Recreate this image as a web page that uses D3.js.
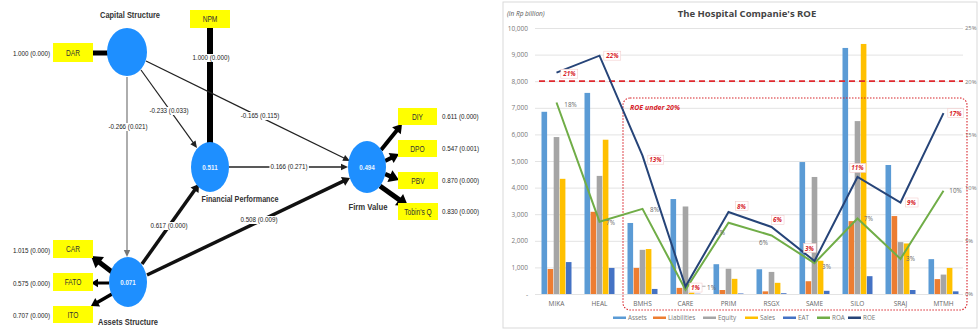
<!DOCTYPE html>
<html><head><meta charset="utf-8">
<script src="https://cdn.jsdelivr.net/npm/d3@7"></script>
<style>
html,body{margin:0;padding:0;background:#fff;}
svg{display:block;}
</style></head>
<body>
<svg id="c" width="978" height="331"></svg>
<script>
// ---------- DATA: right chart ----------
const categories = ["MIKA","HEAL","BMHS","CARE","PRIM","RSGX","SAME","SILO","SRAJ","MTMH"];
const assets      = [6850,7560,2670,3570,1120,930,4960,9250,4850,1310];
const liabilities = [940,3090,980,230,150,100,480,2740,2930,560];
const equity      = [5900,4440,1660,3290,950,830,4400,6500,1950,730];
const sales       = [4330,5800,1690,50,570,420,1250,9400,1900,980];
const eat         = [1200,980,190,10,20,30,120,670,150,100];
const roa = [18,6.8,8,0.4,6.7,5.5,2.9,7.1,3.3,9.7];
const roe = [20.8,22.4,13,0.7,7.7,6.3,3.1,11,8.6,17];
const roaLabels = ["18%","7%","8%","1%","7%","6%","3%","7%","3%","10%"];
const roeLabels = ["21%","22%","13%","1%","8%","6%","3%","11%","9%","17%"];
const leftTicks = [0,1000,2000,3000,4000,5000,6000,7000,8000,9000,10000];
const rightTicks = [0,5,10,15,20,25];
const seriesNames = ["Assets","Liabilities","Equity","Sales","EAT"];
const legendNames = ["Assets","Liabilities","Equity","Sales","EAT","ROA","ROE"];
const roeThreshold = 20;

// ---------- DATA: left path diagram ----------
const constructs = [
  {id:"cs", name:"Capital Structure", r2:""},
  {id:"fp", name:"Financial Performance", r2:"0.511"},
  {id:"fv", name:"Firm Value", r2:"0.494"},
  {id:"as", name:"Assets Structure", r2:"0.071"}
];
const indicators = [
  {id:"DAR", of:"cs", value:"1.000 (0.000)"},
  {id:"NPM", of:"fp", value:"1.000 (0.000)"},
  {id:"DIY", of:"fv", value:"0.611 (0.000)"},
  {id:"DPO", of:"fv", value:"0.547 (0.001)"},
  {id:"PBV", of:"fv", value:"0.870 (0.000)"},
  {id:"Tobin's Q", of:"fv", value:"0.830 (0.000)"},
  {id:"CAR", of:"as", value:"1.015 (0.000)"},
  {id:"FATO", of:"as", value:"0.575 (0.000)"},
  {id:"ITO", of:"as", value:"0.707 (0.000)"}
];
const paths = [
  {from:"cs", to:"fp", label:"-0.233 (0.033)"},
  {from:"cs", to:"fv", label:"-0.165 (0.115)"},
  {from:"cs", to:"as", label:"-0.266 (0.021)"},
  {from:"fp", to:"fv", label:"0.166 (0.271)"},
  {from:"as", to:"fp", label:"0.617 (0.000)"},
  {from:"as", to:"fv", label:"0.508 (0.009)"}
];

// ---------- LAYOUT (positions / styles) ----------
const svg = d3.select("#c");
const font = "'Liberation Sans',Arial,sans-serif";
const cond = 0.8; // horizontal condensing to mimic a narrow face

function condense(t, target){
  const w = t.node().getComputedTextLength();
  const tw = target || w*cond;
  t.attr("textLength",tw).attr("lengthAdjust","spacingAndGlyphs");
  return t;
}

const nodePos = {
  cs:{x:127,y:52,rx:20,ry:24, lx:130, ly:18, lw:60},
  fp:{x:210,y:167,rx:19,ry:25, lx:240, ly:202, lw:77},
  fv:{x:367,y:167,rx:19,ry:26, lx:368, ly:210, lw:39},
  as:{x:128,y:282,rx:19,ry:25, lx:128, ly:325, lw:60}
};
const indPos = {
  "DAR":{x:53,y:43,w:40,h:19, vx:50, vy:56, anchor:"end"},
  "NPM":{x:190,y:10,w:40,h:18, vx:211, vy:60, anchor:"middle"},
  "DIY":{x:398,y:108,w:39,h:17, vx:442, vy:119, anchor:"start"},
  "DPO":{x:398,y:140,w:39,h:17, vx:442, vy:151, anchor:"start"},
  "PBV":{x:398,y:172,w:40,h:17, vx:442, vy:183, anchor:"start"},
  "Tobin's Q":{x:398,y:203,w:40,h:17, vx:442, vy:214, anchor:"start"},
  "CAR":{x:53,y:240,w:40,h:18, vx:50, vy:253, anchor:"end"},
  "FATO":{x:53,y:273,w:40,h:18, vx:50, vy:286, anchor:"end"},
  "ITO":{x:53,y:306,w:40,h:17, vx:50, vy:318, anchor:"end"}
};
const loadLines = {
  "DAR":{x1:108,y1:53,x2:93,y2:53,w:5,arrow:false},
  "NPM":{x1:210,y1:143,x2:210,y2:28,w:6,arrow:false},
  "DIY":{x1:381,y1:150,x2:402,y2:124,w:4,arrow:true},
  "DPO":{x1:385,y1:161,x2:399,y2:154,w:4,arrow:true},
  "PBV":{x1:385,y1:174,x2:399,y2:180,w:4.5,arrow:true},
  "Tobin's Q":{x1:380,y1:186,x2:408,y2:206,w:5,arrow:true},
  "CAR":{x1:112,y1:272,x2:91,y2:256,w:5,arrow:true},
  "FATO":{x1:109,y1:283,x2:91,y2:283,w:3,arrow:true},
  "ITO":{x1:112,y1:294,x2:91,y2:306,w:3.5,arrow:true}
};
const pathGeom = [
  {x1:141,y1:70,x2:197,y2:148,w:1.2,color:"#222", lx:169, ly:113},
  {x1:146,y1:61,x2:350,y2:161,w:1.3,color:"#222", lx:260, ly:118},
  {x1:127,y1:77,x2:127,y2:257,w:1.2,color:"#777", lx:128, ly:129},
  {x1:229,y1:167,x2:348,y2:167,w:1.3,color:"#222", lx:289, ly:169},
  {x1:142,y1:264,x2:199,y2:184,w:3.5,color:"#111", lx:169, ly:228},
  {x1:147,y1:275,x2:350,y2:178,w:3.5,color:"#111", lx:259, ly:222}
];

function arrowLine(g, x1,y1,x2,y2,w,color,withHead){
  const dx=x2-x1, dy=y2-y1, L=Math.hypot(dx,dy), ux=dx/L, uy=dy/L;
  const hl = Math.max(7, w*2.2), hw = Math.max(3.2, w*1.4);
  const ex = withHead ? x2-ux*hl*0.8 : x2, ey = withHead ? y2-uy*hl*0.8 : y2;
  g.append("line").attr("x1",x1).attr("y1",y1).attr("x2",ex).attr("y2",ey)
    .attr("stroke",color).attr("stroke-width",w);
  if(withHead){
    const bx=x2-ux*hl, by=y2-uy*hl, px=-uy, py=ux;
    g.append("path").attr("d",`M${x2},${y2}L${bx+px*hw},${by+py*hw}L${bx-px*hw},${by-py*hw}Z`)
      .attr("fill",color);
  }
}
function whiteBehind(g, t){
  const bb=t.node().getBBox();
  g.insert("rect",()=>t.node()).attr("x",bb.x-1).attr("y",bb.y+1).attr("width",bb.width+2).attr("height",bb.height-1).attr("fill","#fff");
}

// ---------- LEFT DIAGRAM ----------
const L = svg.append("g");
indicators.forEach(d=>{
  const l=loadLines[d.id];
  arrowLine(L,l.x1,l.y1,l.x2,l.y2,l.w,"#000",l.arrow);
});
paths.forEach((p,i)=>{
  const g=pathGeom[i];
  arrowLine(L,g.x1,g.y1,g.x2,g.y2,g.w,g.color,true);
});
paths.forEach((p,i)=>{
  const g=pathGeom[i];
  const t=L.append("text").attr("x",g.lx).attr("y",g.ly).attr("text-anchor","middle")
    .attr("font-family",font).attr("font-size",7.8).attr("fill","#222").text(p.label);
  condense(t);
  whiteBehind(L,t);
});
indicators.forEach(d=>{
  const p=indPos[d.id];
  L.append("rect").attr("x",p.x).attr("y",p.y).attr("width",p.w).attr("height",p.h).attr("fill","#ffff00");
  const it=L.append("text").attr("x",p.x+p.w/2).attr("y",p.y+p.h/2+3).attr("text-anchor","middle")
    .attr("font-family",font).attr("font-size",8.3).attr("fill","#333").text(d.id);
  condense(it);
  const vt=L.append("text").attr("x",p.vx).attr("y",p.vy).attr("text-anchor",p.anchor)
    .attr("font-family",font).attr("font-size",7.8).attr("fill","#222").text(d.value);
  condense(vt);
  if(d.id==="NPM") whiteBehind(L,vt);
});
constructs.forEach(c=>{
  const p=nodePos[c.id];
  L.append("ellipse").attr("cx",p.x).attr("cy",p.y).attr("rx",p.rx).attr("ry",p.ry).attr("fill","#1e8fff");
  if(c.r2){
    const rt=L.append("text").attr("x",p.x).attr("y",p.y+3).attr("text-anchor","middle")
      .attr("font-family",font).attr("font-size",7.8).attr("font-weight","bold").attr("fill","#e8f4ff").text(c.r2);
    condense(rt);
  }
  const nt=L.append("text").attr("x",p.lx).attr("y",p.ly).attr("text-anchor","middle")
    .attr("font-family",font).attr("font-size",9).attr("font-weight","bold").attr("fill","#333").text(c.name);
  condense(nt,p.lw);
});

// ---------- RIGHT CHART ----------
const R = svg.append("g");
R.append("rect").attr("x",503).attr("y",2).attr("width",474).attr("height",326)
  .attr("fill","#fff").attr("stroke","#d9d9d9").attr("stroke-width",1);

const y = d3.scaleLinear().domain([0,10000]).range([294,28]);
const y2 = d3.scaleLinear().domain([0,25]).range([294,28]);
const x0 = d3.scaleBand().domain(categories).range([535,965]);
const x1 = d3.scaleBand().domain(seriesNames).range([0,30]).paddingInner(0.08);
const colors = {Assets:"#5b9bd5",Liabilities:"#ed7d31",Equity:"#a5a5a5",Sales:"#ffc000",EAT:"#4472c4",ROA:"#70ad47",ROE:"#264478"};
const seriesVals = {Assets:assets,Liabilities:liabilities,Equity:equity,Sales:sales,EAT:eat};

const ax = R.append("g").attr("transform","translate(535,0)")
  .call(d3.axisLeft(y).tickValues(leftTicks).tickSize(-428).tickPadding(7)
    .tickFormat(d=> d===0 ? "-" : d3.format(",")(d)));
ax.select(".domain").remove();
ax.selectAll(".tick line").attr("stroke","#e3e3e3");
ax.selectAll(".tick text").attr("font-family","'Open Sans',sans-serif").attr("font-size",6.5).attr("fill","#777");

const ax2 = R.append("g").attr("transform","translate(963,0)")
  .call(d3.axisRight(y2).tickValues(rightTicks).tickSize(0).tickPadding(2).tickFormat(d=>d+"%"));
ax2.select(".domain").remove();
ax2.selectAll(".tick text").attr("font-family","'Open Sans',sans-serif").attr("font-size",5.8).attr("fill","#777");

R.append("text").attr("x",747).attr("y",17).attr("text-anchor","middle")
  .attr("font-family","'Open Sans',sans-serif").attr("font-weight","bold").attr("font-size",9.5).attr("fill","#444")
  .text("The Hospital Companie's ROE");
R.append("text").attr("x",507).attr("y",16).attr("font-family","'Open Sans',sans-serif")
  .attr("font-style","italic").attr("font-size",6.5).attr("fill","#555").text("(in Rp billion)");

const gs = R.selectAll("g.grp").data(categories).join("g").attr("class","grp")
  .attr("transform",c=>`translate(${x0(c)+(x0.bandwidth()-30)/2},0)`);
gs.selectAll("rect").data((c,i)=>seriesNames.map(s=>({s,v:seriesVals[s][i]}))).join("rect")
  .attr("x",d=>x1(d.s)).attr("width",x1.bandwidth())
  .attr("y",d=>y(d.v)).attr("height",d=>y(0)-y(d.v)).attr("fill",d=>colors[d.s]);

R.selectAll("text.cat").data(categories).join("text").attr("class","cat")
  .attr("x",c=>x0(c)+x0.bandwidth()/2).attr("y",306).attr("text-anchor","middle")
  .attr("font-family","'Open Sans',sans-serif").attr("font-size",6.5).attr("fill","#666").text(c=>c);

R.append("line").attr("x1",539).attr("x2",963).attr("y1",y2(roeThreshold)).attr("y2",y2(roeThreshold))
  .attr("stroke","#e0282e").attr("stroke-width",1.8).attr("stroke-dasharray","6,4");

R.append("rect").attr("x",623).attr("y",98).attr("width",344).attr("height",212).attr("rx",7)
  .attr("fill","none").attr("stroke","#d8242b").attr("stroke-width",1.1).attr("stroke-dasharray","1.5,1.5");
R.append("text").attr("x",630).attr("y",110).attr("font-family","'Open Sans',sans-serif")
  .attr("font-size",7).attr("font-weight","bold").attr("font-style","italic").attr("fill","#d8242b").text("ROE under 20%");

const cx = c=>x0(c)+x0.bandwidth()/2;
const lineGen = d3.line().x((v,i)=>cx(categories[i])).y(v=>y2(v));
R.append("path").attr("d",lineGen(roa)).attr("fill","none").attr("stroke",colors.ROA).attr("stroke-width",2);
R.append("path").attr("d",lineGen(roe)).attr("fill","none").attr("stroke",colors.ROE).attr("stroke-width",2);

const roaOff = [[14,2],[11,1],[12,1],[26,-2],[-8,10],[-8,7],[12,3],[11,0],[10,0],[12,0]];
const roeOff = [[13,1],[13,0],[13,4],[10,1],[13,-6],[6,-7],[-5,-13],[0,-9],[11,0],[12,0]];
roa.forEach((v,i)=>{
  R.append("text").attr("x",cx(categories[i])+roaOff[i][0]).attr("y",y2(v)+roaOff[i][1]+2.5)
    .attr("text-anchor","middle").attr("font-family","'Open Sans',sans-serif").attr("font-size",6.3)
    .attr("fill","#666").text(roaLabels[i]);
});
R.append("line").attr("x1",cx("CARE")+15).attr("x2",cx("CARE")+20).attr("y1",y2(roa[3])-3.5).attr("y2",y2(roa[3])-3.5)
  .attr("stroke","#999").attr("stroke-width",0.8);
roe.forEach((v,i)=>{
  const t=R.append("text").attr("x",cx(categories[i])+roeOff[i][0]).attr("y",y2(v)+roeOff[i][1]+2.5)
    .attr("text-anchor","middle").attr("font-family","'Open Sans',sans-serif").attr("font-size",6.3)
    .attr("font-weight","bold").attr("font-style","italic").attr("fill","#d8242b").text(roeLabels[i]);
  const bb=t.node().getBBox();
  R.insert("rect",()=>t.node()).attr("x",bb.x-1.5).attr("y",bb.y).attr("width",bb.width+3).attr("height",bb.height)
    .attr("fill","#fff").attr("stroke","#f2c4c4").attr("stroke-width",0.5);
});

const legX = [613,653,703,745,783,817,848];
legendNames.forEach((n,i)=>{
  R.append("rect").attr("x",legX[i]).attr("y",316.5).attr("width",13).attr("height",2.5).attr("fill",colors[n]);
  R.append("text").attr("x",legX[i]+15).attr("y",320).attr("font-family","'Open Sans',sans-serif")
    .attr("font-size",6.3).attr("fill","#777").text(n);
});
</script>
</body></html>
